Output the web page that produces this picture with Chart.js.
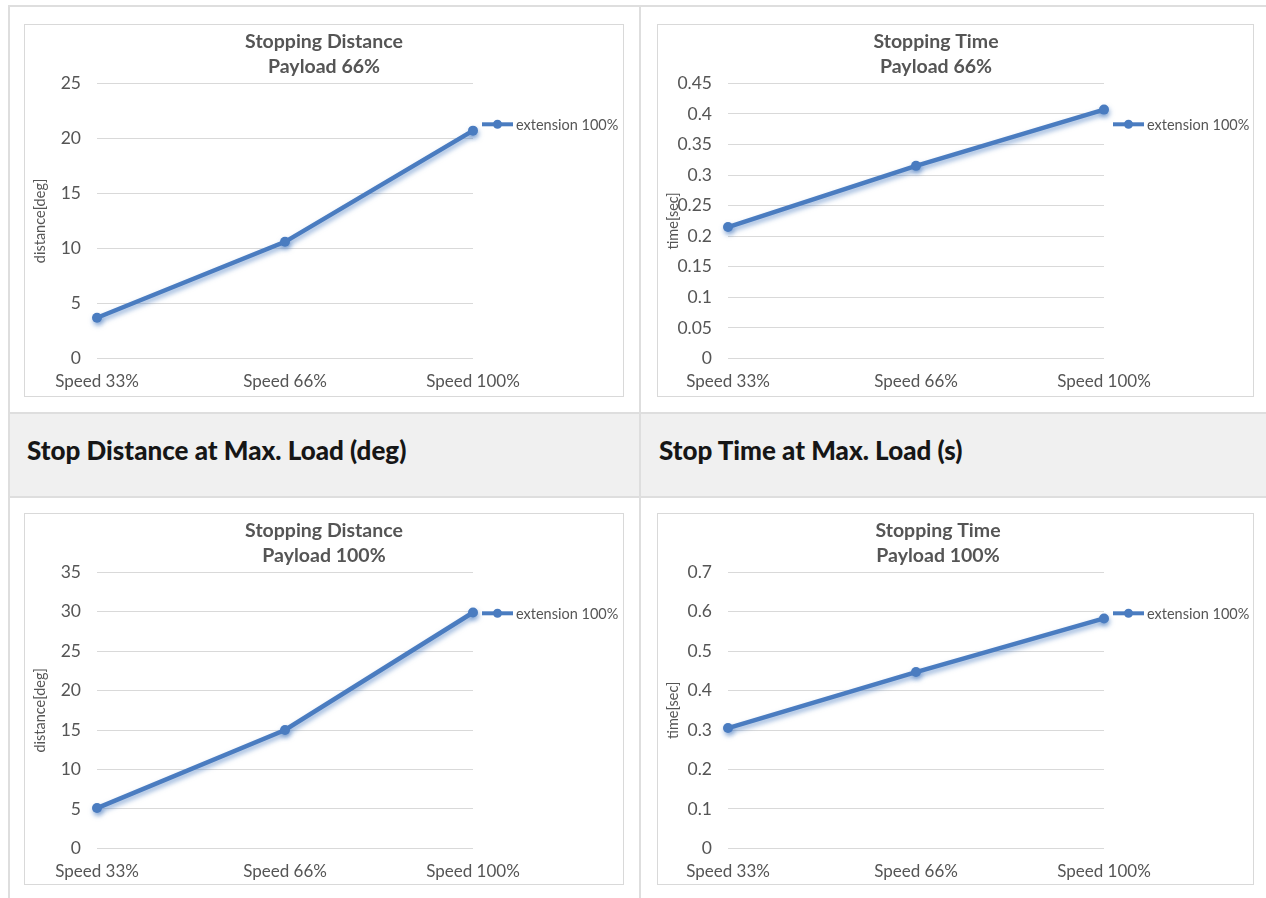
<!DOCTYPE html>
<html>
<head>
<meta charset="utf-8">
<script src="https://cdn.jsdelivr.net/npm/chart.js@4.4.1/dist/chart.umd.min.js"></script>
<style>
  body { margin: 0; width: 1266px; height: 898px; overflow: hidden; position: relative; background: #fff; font-family: Lato, "Open Sans", sans-serif; }
  .hl, .vl { position: absolute; background: #dedede; }
  .hl { height: 2px; left: 8px; right: 0; }
  .vl { width: 2px; top: 5px; bottom: 0; }
  .head { position: absolute; left: 10px; right: 0; top: 414px; height: 82px; background: #f0f0f0; }
  .htxt { position: absolute; top: 435px; font-weight: 900; font-size: 26px; line-height: 31px; color: #161616; white-space: nowrap; }
  .box { position: absolute; border: 1px solid #d9d9d9; background: #fff; }
  .box canvas { display: block; }
</style>
</head>
<body>
<div class="head"></div>
<div class="hl" style="top:5px"></div>
<div class="hl" style="top:412px"></div>
<div class="hl" style="top:496px"></div>
<div class="vl" style="left:8px"></div>
<div class="vl" style="left:639px"></div>
<div class="htxt" style="left:27px">Stop Distance at Max. Load (deg)</div>
<div class="htxt" style="left:659px">Stop Time at Max. Load (s)</div>

<div class="box" style="left:24px;top:24px"><canvas id="c1" width="598" height="371"></canvas></div>
<div class="box" style="left:657px;top:24px"><canvas id="c2" width="595" height="371"></canvas></div>
<div class="box" style="left:24px;top:513px"><canvas id="c3" width="598" height="370"></canvas></div>
<div class="box" style="left:657px;top:513px"><canvas id="c4" width="595" height="370"></canvas></div>

<script>
// categories
const speeds = ['Speed 33%', 'Speed 66%', 'Speed 100%'];
const seriesName = 'extension 100%';

// values
const dist66 = [3.7, 10.6, 20.7];
const time66 = [0.215, 0.315, 0.407];
const dist100 = [5.1, 15.0, 29.9];
const time100 = [0.305, 0.447, 0.583];

// y tick labels
const dist66Ticks = [0, 5, 10, 15, 20, 25];
const time66Ticks = [0, 0.05, 0.1, 0.15, 0.2, 0.25, 0.3, 0.35, 0.4, 0.45];
const dist100Ticks = [0, 5, 10, 15, 20, 25, 30, 35];
const time100Ticks = [0, 0.1, 0.2, 0.3, 0.4, 0.5, 0.6, 0.7];

const blue = '#4a7cc0';
const grey = '#555555';
const font = 'Lato';

// soft glow under the series, like the Excel shadow effect
const lineShadow = {
    id: 'lineShadow',
    beforeDatasetsDraw(chart) {
        const ctx = chart.ctx;
        ctx.save();
        ctx.shadowColor = 'rgba(74,124,192,0.6)';
        ctx.shadowBlur = 5;
        ctx.shadowOffsetX = 1;
        ctx.shadowOffsetY = 3;
    },
    afterDatasetsDraw(chart) {
        chart.ctx.restore();
    }
};

// put the title centre where Excel had it
const placeTitle = {
    id: 'placeTitle',
    afterLayout(chart, args, opts) {
        const t = chart.titleBlock;
        if (!t) return;
        const half = Math.min(opts.center, chart.width - opts.center);
        t.left = opts.center - half;
        t.right = opts.center + half;
        t.width = half * 2;
    }
};

// legend on the right: line with marker + label
const sideLegend = {
    id: 'sideLegend',
    afterDraw(chart) {
        const ctx = chart.ctx;
        const ds = chart.data.datasets[0];
        const x = chart.chartArea.right + 9;
        const y = chart.chartArea.top + 41;
        ctx.save();
        ctx.strokeStyle = ds.borderColor;
        ctx.lineWidth = 4;
        ctx.beginPath();
        ctx.moveTo(x, y);
        ctx.lineTo(x + 31, y);
        ctx.stroke();
        ctx.fillStyle = ds.borderColor;
        ctx.beginPath();
        ctx.arc(x + 15.5, y, 4.5, 0, Math.PI * 2);
        ctx.fill();
        ctx.fillStyle = grey;
        ctx.font = '14.5px ' + font;
        ctx.textBaseline = 'middle';
        ctx.fillText(ds.label, x + 34, y + 1);
        ctx.restore();
    }
};

function makeChart(id, title, yTitle, values, ticks, plotLeft, plotRight, xHeight, titleCenter) {
    const canvas = document.getElementById(id);
    return new Chart(canvas, {
        type: 'line',
        data: {
            labels: speeds,
            datasets: [{
                label: seriesName,
                data: values,
                borderColor: blue,
                backgroundColor: blue,
                borderWidth: 4.5,
                pointRadius: 5,
                pointBorderWidth: 0,
                pointBackgroundColor: blue,
                tension: 0,
                clip: false
            }]
        },
        options: {
            responsive: false,
            animation: false,
            devicePixelRatio: 1,
            layout: { padding: { left: 0, right: canvas.width - plotRight, top: 0, bottom: 0 } },
            plugins: {
                legend: { display: false },
                tooltip: { enabled: false },
                placeTitle: { center: titleCenter },
                title: {
                    display: true,
                    text: title,
                    color: grey,
                    font: { family: font, size: 19.5, weight: 'bold', lineHeight: 25 / 19.5 },
                    padding: { top: 4.5, bottom: 3.8 }
                }
            },
            scales: {
                x: {
                    grid: { display: false, drawTicks: false },
                    border: { display: false },
                    ticks: { color: grey, font: { family: font, size: 17 }, padding: 13, maxRotation: 0, autoSkip: false },
                    afterFit(s) { s.height = xHeight; }
                },
                y: {
                    min: ticks[0],
                    max: ticks[ticks.length - 1],
                    afterBuildTicks(s) { s.ticks = ticks.map(v => ({ value: v })); },
                    grid: { color: '#d9d9d9', lineWidth: 1, drawTicks: false },
                    border: { display: false },
                    ticks: { color: grey, font: { family: font, size: 17.5 }, padding: 16, callback: v => String(v) },
                    title: {
                        display: true,
                        text: yTitle,
                        color: grey,
                        font: { family: font, size: 14.5 },
                        padding: { top: 6.5, bottom: 0 }
                    },
                    afterFit(s) { s.width = plotLeft; }
                }
            }
        },
        plugins: [lineShadow, placeTitle, sideLegend]
    });
}

makeChart('c1', ['Stopping Distance', 'Payload 66%'], 'distance[deg]', dist66, dist66Ticks, 72, 448, 37.5, 299);
makeChart('c2', ['Stopping Time', 'Payload 66%'], 'time[sec]', time66, time66Ticks, 70, 446, 37.5, 278);
makeChart('c3', ['Stopping Distance', 'Payload 100%'], 'distance[deg]', dist100, dist100Ticks, 72, 448, 35.7, 299);
makeChart('c4', ['Stopping Time', 'Payload 100%'], 'time[sec]', time100, time100Ticks, 70, 446, 35.7, 280);
</script>
</body>
</html>
